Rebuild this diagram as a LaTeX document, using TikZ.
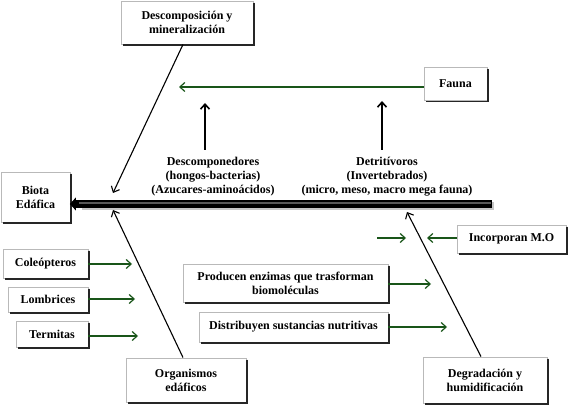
\documentclass[tikz,border=0pt]{standalone}
\usepackage{fontspec}
\setmainfont{Liberation Serif}
\usetikzlibrary{arrows.meta}
\definecolor{dgreen}{RGB}{25,85,25}
\begin{document}
\begin{tikzpicture}[x=1pt,y=-1pt,
  txt/.style={align=center, inner sep=0pt, font=\bfseries\fontsize{12}{14}\selectfont},
  box/.style={txt, draw=gray!55, line width=0.9pt, fill=white},
  shd/.style={draw=black!85, line width=1.4pt},
  blk/.style={draw=black, line width=1.1pt, -{Straight Barb[length=5pt,width=9pt]}},
  vblk/.style={draw=black, line width=1.6pt, -{Straight Barb[length=5pt,width=9pt]}},
  grn/.style={draw=dgreen, line width=1.2pt, -{Straight Barb[length=5pt,width=9pt]}},
]
\useasboundingbox (0,0) rectangle (573,406);

% boxes
\node[box, minimum width=132pt, minimum height=43pt] (desc) at (187,22.5) {Descomposición y\\mineralización};
\node[box, minimum width=63pt, minimum height=33pt] (fauna) at (455.5,84) {Fauna};
\node[box, minimum width=69pt, minimum height=50pt] (biota) at (35.5,197) {Biota\\Edáfica};
\node[box, minimum width=85pt, minimum height=29pt] (cole) at (45.5,263.5) {Coleópteros};
\node[box, minimum width=80pt, minimum height=25pt] (lomb) at (48,299.5) {Lombrices};
\node[box, minimum width=72pt, minimum height=26pt] (term) at (52,334) {Termitas};
\node[box, minimum width=205pt, minimum height=38pt] (prod) at (285.5,283) {Producen enzimas que trasforman\\biomoléculas};
\node[box, minimum width=189pt, minimum height=30pt] (dist) at (293.5,327) {Distribuyen sustancias nutritivas};
\node[box, minimum width=109pt, minimum height=28pt] (inco) at (511.5,239) {Incorporan M.O};
\node[box, minimum width=120pt, minimum height=44pt] (orga) at (186,380) {Organismos\\edáficos};
\node[box, minimum width=124pt, minimum height=46pt] (degr) at (485,380) {Degradación y\\humidificación};

% box shadows (dark right and bottom edges)
\foreach \n in {desc,fauna,biota,cole,lomb,term,prod,dist,inco,orga,degr}
  \draw[shd] ([xshift=0.7pt,yshift=-2pt]\n.north east) -- ([xshift=0.7pt,yshift=-0.7pt]\n.south east) -- ([xshift=2pt,yshift=-0.7pt]\n.south west);

% free labels
\node[txt] (dcomp) at (213,177) {Descomponedores\\(hongos-bacterias)\\(Azucares-aminoácidos)};
\node[txt] (detr) at (387,177) {Detritívoros\\(Invertebrados)\\(micro, meso, macro mega fauna)};

% coordinates
\coordinate (ts) at (492,204);
\coordinate (fa) at (179,87);
\coordinate (d1) at (205,150);
\coordinate (d2) at (205,103);
\coordinate (t1) at (382,150);
\coordinate (t2) at (382,101);
\coordinate (ed) at (113,193);
\coordinate (eo) at (113,210);
\coordinate (eg) at (407,212);
\coordinate (ec) at (132,264);
\coordinate (el) at (135,299);
\coordinate (et) at (138,336);
\coordinate (ep) at (431,284);
\coordinate (eds) at (447,327);
\coordinate (ei) at (427,238);
\coordinate (ma) at (377,238);
\coordinate (mb) at (406,238);

% thick main arrow
\draw[line width=8pt, gray!45] ([xshift=1.5pt,yshift=-1.8pt]ts) -- ([xshift=12pt,yshift=-1.8pt]ts -| biota.east);
\draw[line width=8pt, black, -{Triangle[length=6pt,width=13pt]}, shorten >=-0.5pt] (ts) -- (ts -| biota.east);
\draw[line width=2pt, black!65] ([xshift=-1pt,yshift=0.8pt]ts) -- ([xshift=9pt,yshift=0.8pt]ts -| biota.east);

% green arrows
\draw[grn] (fauna.west |- fa) -- (fa);
\draw[grn] (cole.east |- ec) -- (ec);
\draw[grn] (lomb.east |- el) -- (el);
\draw[grn] (term.east |- et) -- (et);
\draw[grn] (prod.east |- ep) -- (ep);
\draw[grn] (dist.east) -- (eds);
\draw[grn] (inco.west |- ei) -- (ei);
\draw[grn] (ma) -- (mb);

% black arrows
\draw[vblk] (d1) -- (d2);
\draw[vblk] (t1) -- (t2);
\draw[blk] ([xshift=-4pt]desc.south) -- (ed);
\draw[blk] ([xshift=-3pt]orga.north) -- (eo);
\draw[blk] ([xshift=-4pt]degr.north) -- (eg);
\end{tikzpicture}
\end{document}
